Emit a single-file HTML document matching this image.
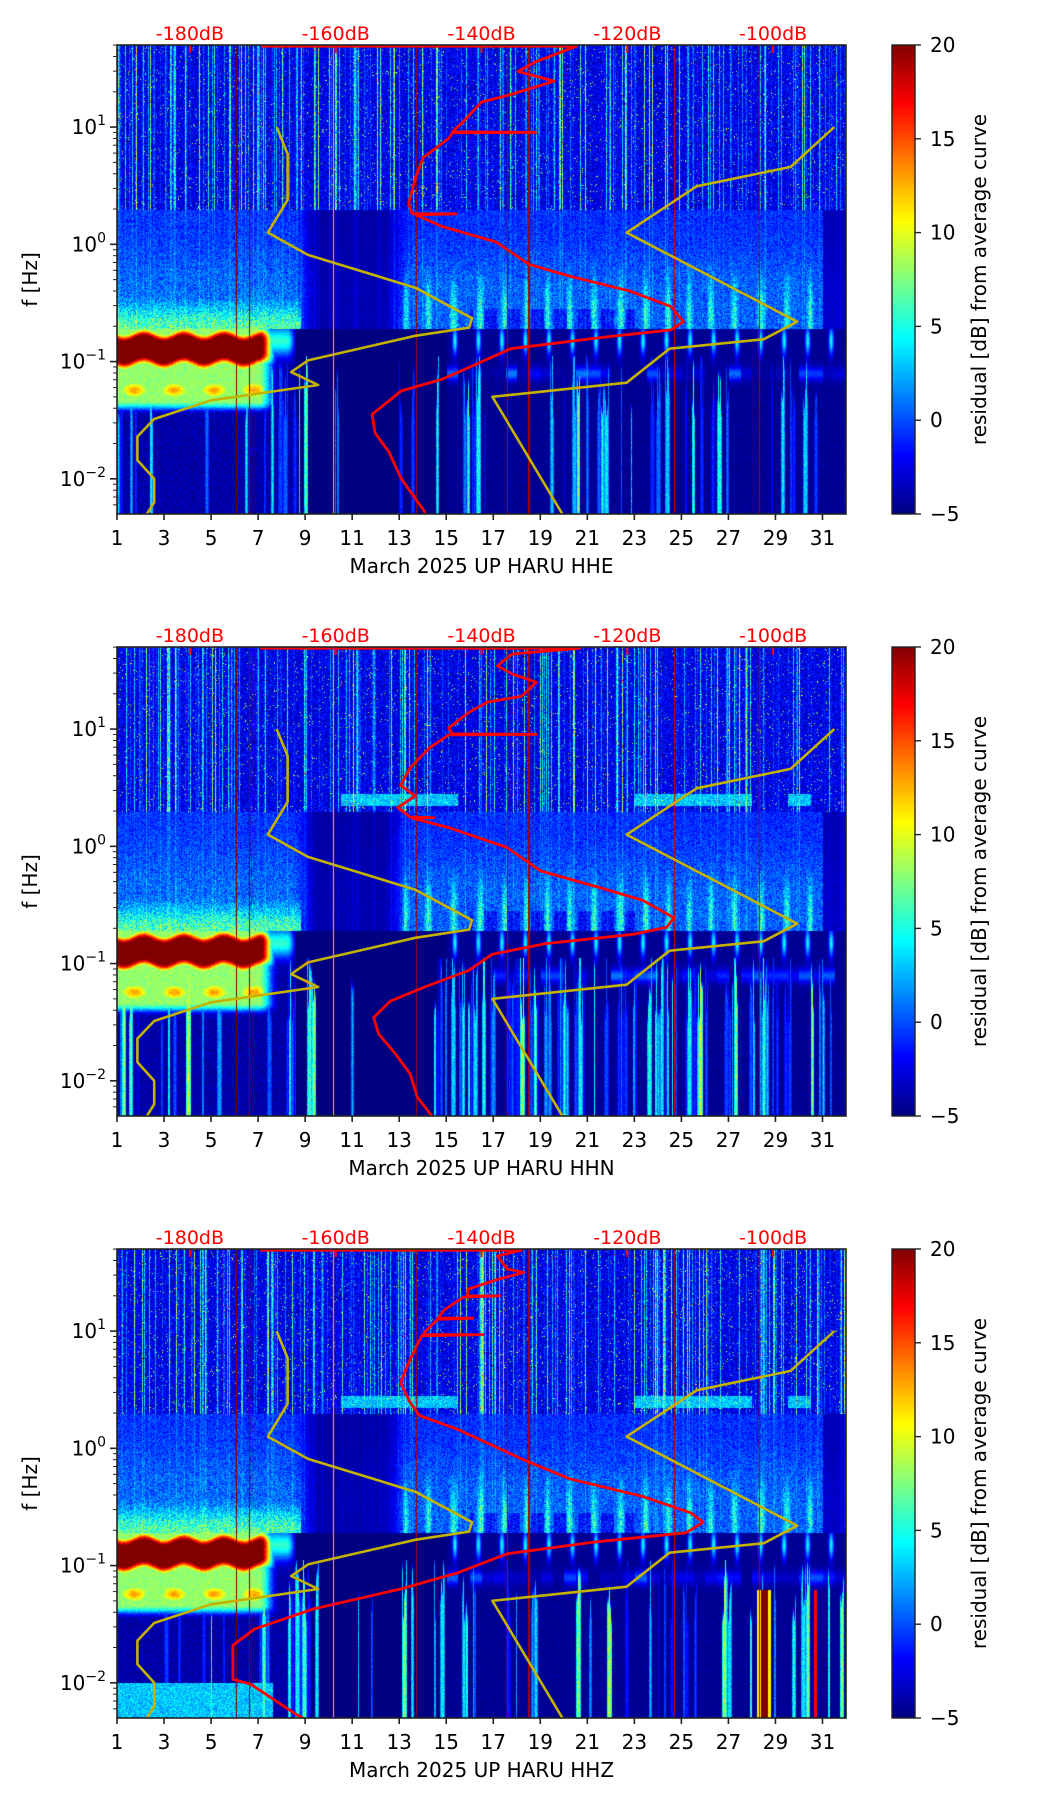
<!DOCTYPE html>
<html><head><meta charset="utf-8"><title>Spectrogram March 2025 UP HARU</title>
<style>
html,body{margin:0;padding:0;background:#fff;}
#root{position:relative;width:1052px;height:1806px;overflow:hidden;background:#fff;font-family:"DejaVu Sans","Liberation Sans",sans-serif;}
canvas{position:absolute;}
svg{position:absolute;left:0;top:0;}
</style></head>
<body>
<div id="root">
<canvas id="c0" width="729" height="469" style="left:117px;top:45px"></canvas>
<canvas id="c1" width="729" height="469" style="left:117px;top:647px"></canvas>
<canvas id="c2" width="729" height="469" style="left:117px;top:1249px"></canvas>
<svg id="ov" width="1052" height="1806"></svg>
</div>
<script>
// ---- data (dB, log10 frequency Hz) ----
const dayTicks = [1,3,5,7,9,11,13,15,17,19,21,23,25,27,29,31];
const dbTicks = [-180,-160,-140,-120,-100];
const dbTickLabels = ["-180dB","-160dB","-140dB","-120dB","-100dB"];
const yTicksLog = [1,0,-1,-2];
const yTickExp = ["1","0","\u22121","\u22122"];
const cbTicks = [20,15,10,5,0,-5];
const cbTickLabels = ["20","15","10","5","0","\u22125"];
const channelNames = ["HHE","HHN","HHZ"];

const nlnmDb   = [-168.1,-166.6,-166.6,-169.3,-163.8,-149.1,-141.3,-141.7,-149.1,-163.8,-166.1,-162.4,-177.1,-184.9,-187.2,-187.2,-184.9,-184.9,-185.9];
const nlnmLogF = [1.0,0.77,0.38,0.10,-0.09,-0.37,-0.63,-0.71,-0.78,-0.99,-1.09,-1.20,-1.33,-1.49,-1.64,-1.84,-2.0,-2.2,-2.3];
const nhnmDb   = [-91.6,-97.6,-110.5,-120.1,-96.7,-101.3,-114.2,-120.1,-138.5,-128.9];
const nhnmLogF = [1.0,0.66,0.495,0.10,-0.66,-0.81,-0.89,-1.18,-1.30,-2.30];

const hheDb   = [-170.2,-127,-132.6,-135,-130,-136,-140,-142.7,-144,-132.6,-144,-144.5,-148,-149,-150,-149.5,-143.5,-149,-145.4,-138,-133.5,-128,-119.6,-114,-112.3,-114,-123,-136,-141.7,-145.4,-151,-155,-154.6,-152.7,-151,-147.7];
const hheLogF = [1.69,1.69,1.556,1.474,1.392,1.278,1.213,1.034,0.96,0.955,0.95,0.903,0.74,0.577,0.348,0.26,0.26,0.25,0.152,0.02,-0.17,-0.27,-0.40,-0.53,-0.66,-0.73,-0.79,-0.89,-1.05,-1.15,-1.25,-1.45,-1.61,-1.77,-2.0,-2.29];
const hhnDb   = [-170.4,-126.5,-135.8,-137.8,-135.8,-132.5,-134.5,-139.2,-141.8,-144.5,-144,-132.5,-144.5,-147.1,-149.8,-151.1,-149.1,-151.5,-149.8,-146.5,-149.5,-144.5,-136.5,-131.9,-123.9,-117.9,-113.6,-114.6,-119.2,-131.2,-138.5,-141.8,-147.8,-152.5,-154.8,-154.1,-151.8,-149.8,-148.8,-146.8];
const hhnLogF = [1.69,1.69,1.64,1.54,1.47,1.40,1.28,1.23,1.14,1.01,0.96,0.955,0.95,0.84,0.67,0.52,0.43,0.33,0.25,0.245,0.24,0.16,-0.01,-0.21,-0.35,-0.46,-0.61,-0.69,-0.75,-0.83,-0.92,-1.06,-1.20,-1.32,-1.46,-1.60,-1.77,-1.94,-2.14,-2.30];
const hhzDb   = [-170.4,-134.5,-137.8,-136.5,-134.2,-137.8,-141.8,-142,-137.5,-142.5,-145.1,-146,-141.2,-146,-147.8,-148,-139.8,-148.2,-149.8,-151.1,-149.8,-148.5,-143.2,-134.5,-127.9,-117.9,-111.3,-109.6,-111.9,-124.6,-136.5,-143.2,-151.1,-163.1,-171.1,-174.1,-174.1,-171.7,-165.4,-164.5];
const hhzLogF = [1.69,1.69,1.64,1.53,1.50,1.44,1.36,1.30,1.30,1.29,1.18,1.11,1.11,1.10,0.99,0.97,0.97,0.96,0.76,0.56,0.39,0.28,0.16,-0.09,-0.26,-0.41,-0.55,-0.63,-0.72,-0.80,-0.90,-1.06,-1.20,-1.37,-1.54,-1.68,-1.97,-2.01,-2.27,-2.30];

const redDbSets = [hheDb, hhnDb, hhzDb];
const redLogFSets = [hheLogF, hhnLogF, hhzLogF];

// ---- layout ----
const L = 117, W = 729, H = 469;
const tops = [45, 647, 1249];
const DAY0 = 1, DAY1 = 32, LF0 = -2.3, LF1 = 1.7, DB0 = -190, DB1 = -90;
function xDay(d){ return L + (d - DAY0) / (DAY1 - DAY0) * W; }
function xDb(db){ return L + (db - DB0) / (DB1 - DB0) * W; }
function yLf(top, lf){ return top + (LF1 - lf) / (LF1 - LF0) * H; }

function jet(t){
  t = Math.max(0, Math.min(1, t));
  const c = x => Math.max(0, Math.min(1, x));
  return [c(1.5 - Math.abs(4*t - 3)), c(1.5 - Math.abs(4*t - 2)), c(1.5 - Math.abs(4*t - 1))];
}
function hash(a, b, s){
  let n = Math.imul(a, 374761393) + Math.imul(b, 668265263) + Math.imul(s, 1442695041);
  n = Math.imul(n ^ (n >>> 13), 1274126177);
  n = n ^ (n >>> 16);
  return (n >>> 0) / 4294967296;
}
function sstep(a, b, x){ const t = Math.max(0, Math.min(1, (x - a) / (b - a))); return t*t*(3 - 2*t); }

// ---- spectrogram background (texture) ----
function drawSpec(p){
  const cv = document.getElementById('c' + p);
  const ctx = cv.getContext('2d');
  const img = ctx.createImageData(W, H);
  const colHigh = new Float32Array(W), colLow = new Float32Array(W), colTop = new Float32Array(W);
  let i = 0;
  while (i < W){
    const r = hash(i, 7, p + 11);
    const w = 1 + Math.floor(hash(i, 9, p) * 5);
    const d = DAY0 + i / W * 31;
    let dens = 0.22;
    if (d > 8 && d < 9.2) dens = 0.7;
    if (d > 9.5 && d < 13) dens = 0.12;
    if (p === 1 && d > 14.5 && d < 31) dens = 0.55;
    if (d > 25 && d < 25.8) dens = 0.7;
    const amp = r < dens ? (0.25 + 0.75 * Math.pow(hash(i, 3, p), 1.3)) * 16 : 0;
    for (let k = 0; k < w && i < W; k++, i++){
      colLow[i] = amp * (k === 0 || k === w - 1 ? 0.75 : 1);
      colTop[i] = -1.4 + hash(i, 5, p) * 0.6;
    }
  }
  for (let x = 0; x < W; x++){
    const r = hash(x, 1, p + 3);
    colHigh[x] = r < 0.4 ? Math.pow(hash(x, 2, p), 2.2) * 15 : 0;
  }
  const lines = [[6.05,20],[6.6,20],[13.7,19],[17.6,19],[18.5,19],[24.7,18],[28.3,19],[10.2,12]];
  for (let y = 0; y < H; y++){
    const lf = LF1 - y / H * (LF1 - LF0);
    for (let x = 0; x < W; x++){
      const d = DAY0 + x / W * 31;
      const r = hash(x, y, p);
      let v = -5;
      if (lf > 0.3){
        v = -4.3 + 3.8 * r + colHigh[x] * (0.4 + 0.6 * hash(y, x, p + 5));
        if (r > 0.98) v += 9;
        if ((p > 0) && lf > 0.35 && lf < 0.45 && ((d > 10.5 && d < 15.5) || (d > 23 && d < 28) || (d > 29.5 && d < 30.5))) v = Math.max(v, 1 + 4 * r);
      } else if (lf > -0.72){
        let h = 1.0 - 0.8 * sstep(8.4, 9.6, d) + 0.75 * sstep(12.2, 13.6, d);
        if (d > 31) h = 0.3;
        const prof = 0.85 + 0.25 * sstep(0.2, -0.4, lf);
        let plume = 0;
        if (lf < -0.1 && d > 13 && d < 31.2){
          const ph = Math.cos(2 * Math.PI * (d - 0.35) + 0.8 * Math.sin(d));
          plume = Math.pow(Math.max(0, ph), 3) * 6 * sstep(-0.1, -0.6, lf);
        }
        if (lf < -0.4 && d < 8.8){
          plume = Math.max(plume, 7 * sstep(-0.4, -0.72, lf));
        }
        v = -5 + h * prof * (3.2 + 3.8 * r) + plume * (0.6 + 0.4 * r);
        if (lf < -0.55 && d > 16 && d < 23 && Math.cos(2 * Math.PI * (d - 0.35)) < 0.2) v -= 2;
        v += colHigh[x] * 0.12;
      } else {
        v = -5;
        if (d < 8.6){
          const fade = 1 - sstep(7.0, 7.9, d);
          const c1 = -0.89 + 0.025 * Math.sin(d * 2 * Math.PI / 1.7);
          const dist = Math.abs(lf - c1);
          const core = 27 * (1 - sstep(0.06, 0.22, dist));
          const low = 17 * Math.exp(-Math.pow((lf + 1.24) / 0.1, 2)) * (0.8 + 0.2 * Math.sin(d * 2 * Math.PI / 1.7 + 1.5));
          const halo = 12 * sstep(-1.45, -1.33, lf) * sstep(-0.6, -0.72, lf) + 0 ;
          v = -5 + Math.max(core, low, halo) * fade + 2 * r;
          if (d > 7 && d < 8.7) v = Math.max(v, -5 + 10 * Math.exp(-Math.pow((lf + 0.82) / 0.13, 2)) * (1 - sstep(8.2, 8.7, d)) + r);
        } else if (d > 15){
          const ph = Math.cos(2 * Math.PI * (d - 0.35));
          v = -5 + Math.pow(Math.max(0, ph), 4) * 9 * Math.exp(-Math.pow((lf + 0.82) / 0.12, 2)) + 6 * Math.exp(-Math.pow((lf + 1.1) / 0.06, 2)) * Math.pow(hash(Math.floor(d * 2), 1, p), 2) + r;
        }
        if (lf < -0.95){
          const top = colTop[x];
          const f = sstep(top, top - 0.15, lf);
          v = Math.max(v, -5 + colLow[x] * f * (0.7 + 0.3 * r));
        }
        if (p === 2 && lf < -2.0 && d < 7.6) v = Math.max(v, 1 + 4 * r);
        if (p === 2 && lf < -1.2 && d > 28.35 && d < 28.65) v = 20;
        if (p === 2 && lf < -1.2 && ((d > 28.2 && d <= 28.35) || (d >= 28.65 && d < 28.8))) v = 11;
        if (p === 2 && lf < -1.2 && d > 30.62 && d < 30.74) v = 17;
      }
      for (let k = 0; k < lines.length; k++){
        if (Math.abs(d - lines[k][0]) < 0.025) v = lines[k][1];
      }
      const c = jet((v + 5) / 25);
      const o = (y * W + x) * 4;
      img.data[o] = c[0] * 255; img.data[o+1] = c[1] * 255; img.data[o+2] = c[2] * 255; img.data[o+3] = 255;
    }
  }
  ctx.putImageData(img, 0, 0);
}
for (let p = 0; p < 3; p++) drawSpec(p);

// ---- overlay ----
const NS = 'http://www.w3.org/2000/svg';
const svg = document.getElementById('ov');
function mk(tag, attrs, parent){
  const e = document.createElementNS(NS, tag);
  for (const k in attrs) e.setAttribute(k, attrs[k]);
  (parent || svg).appendChild(e);
  return e;
}
const defs = mk('defs', {});
const grad = mk('linearGradient', {id: 'jetg', x1: '0', y1: '1', x2: '0', y2: '0'}, defs);
for (let k = 0; k <= 16; k++){
  const c = jet(k / 16);
  mk('stop', {offset: (k / 16).toString(), 'stop-color': 'rgb(' + Math.round(c[0]*255) + ',' + Math.round(c[1]*255) + ',' + Math.round(c[2]*255) + ')'}, grad);
}
function pathFrom(top, dbs, lfs){
  let s = '';
  for (let k = 0; k < dbs.length; k++){
    s += (k ? 'L' : 'M') + xDb(dbs[k]).toFixed(1) + ',' + yLf(top, lfs[k]).toFixed(1);
  }
  return s;
}

for (let p = 0; p < 3; p++){
  const top = tops[p], bot = top + H;
  const g = mk('g', {});
  
  
  const clipId = 'clip' + p;
  const cp = mk('clipPath', {id: clipId}, defs);
  mk('rect', {x: L, y: top - 2, width: W, height: H + 2}, cp);

  const cg = mk('g', {'clip-path': 'url(#' + clipId + ')'}, g);
  const yl1 = mk('path', {d: pathFrom(top, nlnmDb, nlnmLogF), fill: 'none', stroke: '#c4b200', 'stroke-width': 2.6, 'stroke-linejoin': 'round'}, cg);
  
  
  const yl2 = mk('path', {d: pathFrom(top, nhnmDb, nhnmLogF), fill: 'none', stroke: '#c4b200', 'stroke-width': 2.6, 'stroke-linejoin': 'round'}, cg);
  
  
  const rl = mk('path', {d: pathFrom(top, redDbSets[p], redLogFSets[p]), fill: 'none', stroke: '#ff0000', 'stroke-width': 2.8, 'stroke-linejoin': 'round'}, cg);
  
  

  for (let k = 0; k < dbTicks.length; k++){
    const x = xDb(dbTicks[k]);
    const t = mk('line', {x1: x, y1: top, x2: x, y2: top + 8, stroke: '#ff0000', 'stroke-width': 2}, g);
    
    
    const tx = mk('text', {x: x, y: top - 5, 'text-anchor': 'middle', fill: '#ff0000', 'font-size': 19}, g);
    tx.textContent = dbTickLabels[k];
    
    
  }
  const fr = mk('rect', {x: L, y: top, width: W, height: H, fill: 'none', stroke: '#222', 'stroke-width': 1.6}, g);
  
  
  for (let k = 0; k < dayTicks.length; k++){
    const x = xDay(dayTicks[k]);
    mk('line', {x1: x, y1: bot, x2: x, y2: bot + 6, stroke: '#222', 'stroke-width': 1.6}, g);
    const tx = mk('text', {x: x, y: bot + 31, 'text-anchor': 'middle', fill: '#000', 'font-size': 20}, g);
    tx.textContent = String(dayTicks[k]);
    
    
  }
  for (let n = -3; n <= 1; n++){
    for (let m = 1; m <= 9; m++){
      const lf = n + Math.log10(m);
      if (lf < LF0 || lf > LF1) continue;
      const y = yLf(top, lf);
      mk('line', {x1: L - (m === 1 ? 7 : 4), y1: y, x2: L, y2: y, stroke: '#222', 'stroke-width': m === 1 ? 1.6 : 1}, g);
    }
  }
  for (let k = 0; k < yTicksLog.length; k++){
    const y = yLf(top, yTicksLog[k]);
    const tx = mk('text', {x: 106, y: y + 7, 'text-anchor': 'end', fill: '#000', 'font-size': 20}, g);
    
    
    const t1 = mk('tspan', {}, tx); t1.textContent = '10';
    const t2 = mk('tspan', {'font-size': 14, dy: -9}, tx); t2.textContent = yTickExp[k];
  }
  const yl = mk('text', {x: 0, y: 0, 'text-anchor': 'middle', fill: '#000', 'font-size': 20, transform: 'translate(37,' + (top + H / 2) + ') rotate(-90)'}, g);
  yl.textContent = 'f [Hz]';
  
  
  const xl = mk('text', {x: L + W / 2, y: bot + 59, 'text-anchor': 'middle', fill: '#000', 'font-size': 20}, g);
  xl.textContent = 'March 2025 UP HARU  ' + channelNames[p];
  
  

  const cb = mk('rect', {x: 892, y: top, width: 23, height: H, fill: 'url(#jetg)', stroke: '#222', 'stroke-width': 1.4}, g);
  
  
  for (let k = 0; k < cbTicks.length; k++){
    const y = top + (20 - cbTicks[k]) / 25 * H;
    mk('line', {x1: 915, y1: y, x2: 921, y2: y, stroke: '#222', 'stroke-width': 1.4}, g);
    const tx = mk('text', {x: 930, y: y + 7, fill: '#000', 'font-size': 20}, g);
    tx.textContent = cbTickLabels[k];
    
    
  }
  const cl = mk('text', {x: 0, y: 0, 'text-anchor': 'middle', fill: '#000', 'font-size': 20, transform: 'translate(986,' + (top + H / 2) + ') rotate(-90)'}, g);
  cl.textContent = 'residual [dB] from average curve';
  
  
}
</script>
</body></html>
